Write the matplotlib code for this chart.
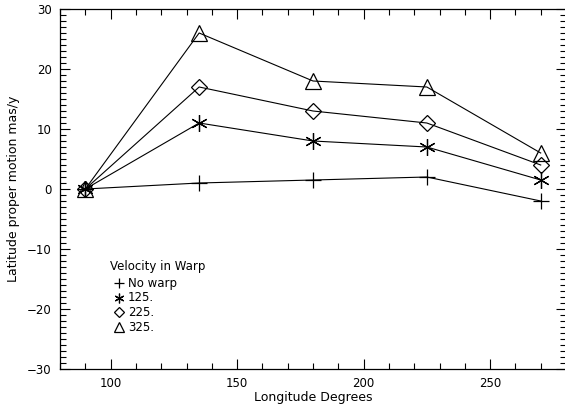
import numpy as np
import matplotlib
matplotlib.use("Agg")
from matplotlib import pyplot as plt
from matplotlib.ticker import MultipleLocator

# Longitudes sampled and latitude proper motion for each warp velocity
longitude = [90, 135, 180, 225, 270]
no_warp = [0, 1, 1.5, 2, -2]
v125 = [0, 11, 8, 7, 1.5]
v225 = [0, 17, 13, 11, 4]
v325 = [0, 26, 18, 17, 6]
labels = ["No warp", "125.", "225.", "325."]

plt.rcParams["font.family"] = "DejaVu Sans"
plt.rcParams["font.size"] = 8.5

fig = plt.figure(figsize=(5.65, 4.07), dpi=100)
ax = fig.add_axes([60 / 565, 38 / 407, 506 / 565, 360 / 407])

asterisk = (6, 2, 0)
styles = [("+", 11), (asterisk, 12), ("D", 8), ("^", 11)]
series = [no_warp, v125, v225, v325]
for vals, (m, ms) in zip(series, styles):
    ax.plot(longitude, vals, color="black", lw=0.8, marker=m, ms=ms,
            mfc="none", mec="black", mew=0.9)

ax.set_xlim(80, 280)
ax.set_ylim(-30, 30)
ax.xaxis.set_major_locator(MultipleLocator(50))
ax.xaxis.set_minor_locator(MultipleLocator(10))
ax.yaxis.set_major_locator(MultipleLocator(10))
ax.yaxis.set_minor_locator(MultipleLocator(1))
ax.tick_params(which="both", direction="in", top=True, right=True, width=0.8)
ax.tick_params(which="major", length=7, pad=6)
ax.tick_params(which="minor", length=4)
ax.set_yticks([-30, -20, -10, 0, 10, 20, 30])
ax.set_yticklabels(["\u221230", "\u221220", "\u221210", "0", "10", "20", "30"])
for s in ax.spines.values():
    s.set_linewidth(0.9)

ax.set_xlabel("Longitude Degrees", fontsize=9, labelpad=0.5)
ax.set_ylabel("Latitude proper motion mas/y", fontsize=9, labelpad=5)

# Legend drawn in axes coordinates
ax.text(0.098, 0.285, "Velocity in Warp", transform=ax.transAxes, va="center")
leg_styles = [("+", 7), (asterisk, 7), ("D", 5), ("^", 7)]
for i, (lab, (m, ms)) in enumerate(zip(labels, leg_styles)):
    y = 0.238 - i * 0.0405
    ax.plot([0.116], [y], transform=ax.transAxes, marker=m, ms=ms,
            mfc="none", mec="black", mew=0.9, ls="none", clip_on=False)
    ax.text(0.134, y, lab, transform=ax.transAxes, va="center")

fig.savefig("out.png", dpi=100)
